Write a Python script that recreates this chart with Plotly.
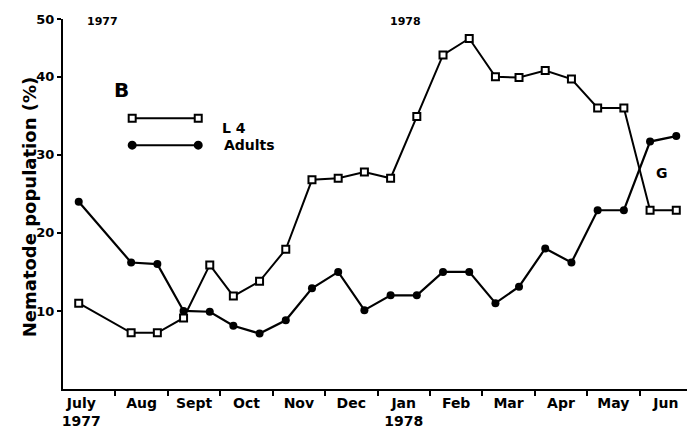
import plotly.graph_objects as go

# sampling dates, in months after 1 July 1977 (two samples per month)
sample_month = [0.3, 1.3, 1.8, 2.3, 2.8, 3.25, 3.75, 4.25, 4.75, 5.25, 5.75, 6.25,
                6.75, 7.25, 7.75, 8.25, 8.7, 9.2, 9.7, 10.2, 10.7, 11.2, 11.7]

l4_pct = [11.0, 7.2, 7.2, 9.1, 15.9, 11.9, 13.8, 17.9, 26.8, 27.0, 27.8, 27.0,
          34.9, 42.8, 44.9, 40.0, 39.9, 40.8, 39.7, 36.0, 36.0, 22.9, 22.9]
adults_pct = [24.0, 16.2, 16.0, 10.0, 9.9, 8.1, 7.1, 8.8, 12.9, 15.0, 10.1, 12.0,
              12.0, 15.0, 15.0, 11.0, 13.1, 18.0, 16.2, 22.9, 22.9, 31.7, 32.4]

month_pos = [0.35, 1.5, 2.5, 3.5, 4.5, 5.5, 6.5, 7.5, 8.5, 9.5, 10.5, 11.5]
month_labels = ["July<br>1977", "Aug", "Sept", "Oct", "Nov", "Dec", "Jan<br>1978",
                "Feb", "Mar", "Apr", "May", "Jun"]
month_bounds = [1, 2, 3, 4, 5, 6, 7, 8, 9, 10, 11]

# the hand-drawn axis puts its "50" a little low
y_tickvals = [10, 20, 30, 40, 47.4]
y_ticktext = ["10", "20", "30", "40", "50"]

FONT = "DejaVu Sans"
INK = "black"

fig = go.Figure()
fig.add_trace(go.Scatter(
    x=sample_month, y=l4_pct, mode="lines+markers", name="L 4",
    line=dict(color=INK, width=2),
    marker=dict(symbol="square", size=7, color="white",
                line=dict(color=INK, width=2)),
))
fig.add_trace(go.Scatter(
    x=sample_month, y=adults_pct, mode="lines+markers", name="Adults",
    line=dict(color=INK, width=2.2),
    marker=dict(symbol="circle", size=8, color=INK),
))

# hand-made legend: a line with a marker at each end
shapes = []
for y, sym in [(0.732, "rect"), (0.659, "circle")]:
    shapes.append(dict(type="line", xref="paper", yref="paper",
                       x0=0.110, x1=0.215, y0=y, y1=y,
                       line=dict(color=INK, width=2)))
    for x in (0.110, 0.215):
        shapes.append(dict(type=sym, xref="paper", yref="paper",
                           xsizemode="pixel", ysizemode="pixel",
                           xanchor=x, yanchor=y, x0=-3.5, x1=3.5, y0=-3.5, y1=3.5,
                           fillcolor="white" if sym == "rect" else INK,
                           line=dict(color=INK, width=2)))

annotations = [
    dict(text="<b>L 4</b>", x=0.250, y=0.732, xanchor="left"),
    dict(text="<b>Adults</b>", x=0.253, y=0.659, xanchor="left"),
    dict(text="<b>B</b>", x=0.078, y=0.846, font=dict(size=20)),
    dict(text="<b>Nematode population (%)</b>", x=-0.073, y=0.49,
         textangle=-90, font=dict(size=18)),
    dict(text="<b>1977</b>", x=0.035, y=1.016, font=dict(size=11)),
    dict(text="<b>1978</b>", x=0.544, y=1.016, font=dict(size=11)),
    dict(text="<b>G</b>", x=0.965, y=0.584, font=dict(size=14)),
]
for a in annotations:
    a.update(xref="paper", yref="paper", showarrow=False)
    a.setdefault("font", dict(size=14))
    a["font"] = dict(family=FONT, color=INK, **a["font"])

# the page body adds an 8 px offset, so margins are trimmed to compensate
fig.update_layout(
    width=695, height=430,
    margin=dict(l=55, r=11, t=11, b=49),
    paper_bgcolor="white", plot_bgcolor="white",
    showlegend=False,
    font=dict(family=FONT, color=INK, size=14),
    shapes=shapes, annotations=annotations,
)
fig.update_xaxes(
    range=[0, 12], showgrid=False, zeroline=False, automargin=False,
    showline=True, linecolor=INK, linewidth=2,
    tickmode="array", tickvals=month_pos, ticktext=[f"<b>{t}</b>" for t in month_labels],
    ticks="", tickfont=dict(size=14),
    minor=dict(tickmode="array", tickvals=month_bounds, ticks="outside",
               ticklen=5, tickwidth=2, tickcolor=INK, showgrid=False),
)
fig.update_yaxes(
    range=[0, 47.4], showgrid=False, zeroline=False, automargin=False,
    showline=True, linecolor=INK, linewidth=2,
    tickmode="array", tickvals=y_tickvals, ticktext=[f"<b>{t}</b>" for t in y_ticktext],
    ticks="outside", ticklen=4, tickwidth=2, tickcolor=INK,
    tickfont=dict(size=13),
)

fig.write_html("out.html")
